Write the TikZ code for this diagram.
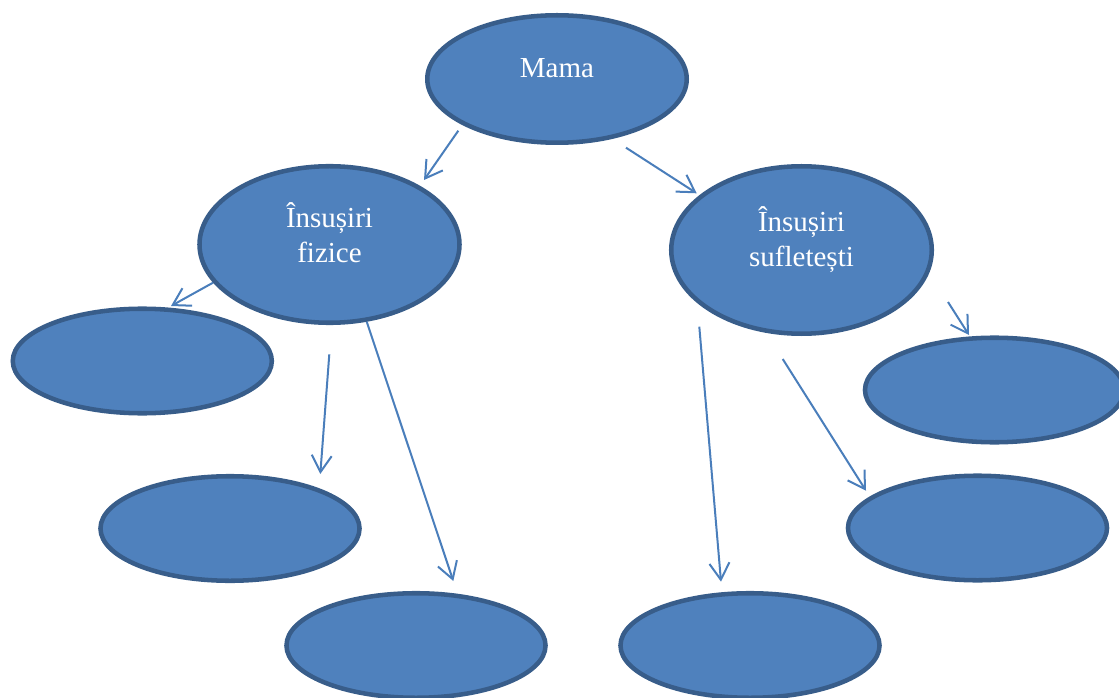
\documentclass[tikz,border=0pt]{standalone}
\usepackage{fontspec}
\setmainfont{Liberation Serif}
\usetikzlibrary{shapes.geometric,arrows.meta,calc}
\definecolor{bubblefill}{RGB}{79,129,189}
\definecolor{bubbleline}{RGB}{56,93,138}
\definecolor{arrowblue}{RGB}{74,126,187}
\tikzset{
  bubble/.style={ellipse, fill=bubblefill, draw=bubbleline, line width=3.4pt, inner sep=0pt, outer sep=0pt},
  leaf/.style={bubble, minimum width=194.3pt, minimum height=78.4pt},
  txt/.style={text=white, font=\fontsize{21.75}{26.25}\selectfont, align=center, inner sep=0pt},
  link/.style={draw=arrowblue, line width=1.5pt, -{Straight Barb[length=12.5pt,width=15pt]}}
}
\begin{document}
\begin{tikzpicture}[x=0.75pt,y=0.75pt,yscale=-1,xscale=1]
\useasboundingbox (0,0) rectangle (1119,698);
\clip (0,0) rectangle (1119,698);

%Top ellipse
\node[bubble, minimum width=194.6pt, minimum height=95.6pt] (mama) at (557,79) {};
\node[txt] (mamatext) at ($(mama)+(0,-10.6)$) {Mama};

%Second row
\node[bubble, minimum width=195pt, minimum height=117.4pt] (fizice) at (329.5,244.5) {};
\node[txt] (fizicetext) at ($(fizice)+(0,-12)$) {Însușiri\\fizice};
\node[bubble, minimum width=195.4pt, minimum height=125.6pt] (suflet) at (801.5,250) {};
\node[txt] (suflettext) at ($(suflet)+(0,-10.8)$) {Însușiri\\sufletești};

%Empty ellipses
\node[leaf] (leafa) at (142.3,361) {};
\node[leaf] (leafb) at (230,528.5) {};
\node[leaf] (leafc) at (416,645.5) {};
\node[leaf] (leafd) at (750,645.5) {};
\node[leaf] (leafe) at (977.5,528) {};
\node[leaf] (leaff) at (994.5,390) {};

%Arrows
\draw[link] ($(mama)+(-98.7,51.7)$) -- ($(fizice)+(94.5,-64.5)$);
\draw[link] ($(mama)+(69,68.7)$) -- ($(suflet)+(-104.8,-56.7)$);
\draw[link] ($(fizice)+(-116.5,38.2)$) -- ($(leafa)+(28.7,-55)$);
\draw[link] ($(fizice)+(-0.2,109.8)$) -- ($(leafb)+(90.3,-54.5)$);
\draw[link] ($(fizice)+(37.2,77.2)$) -- ($(leafc)+(37.3,-64.5)$);
\draw[link] ($(suflet)+(-102.2,76.7)$) -- ($(leafd)+(-29,-63.8)$);
\draw[link] ($(suflet)+(-18.8,109)$) -- ($(leafe)+(-111.5,-37.3)$);
\draw[link] ($(suflet)+(146.5,52)$) -- ($(leaff)+(-25.5,-55)$);

\end{tikzpicture}
\end{document}
